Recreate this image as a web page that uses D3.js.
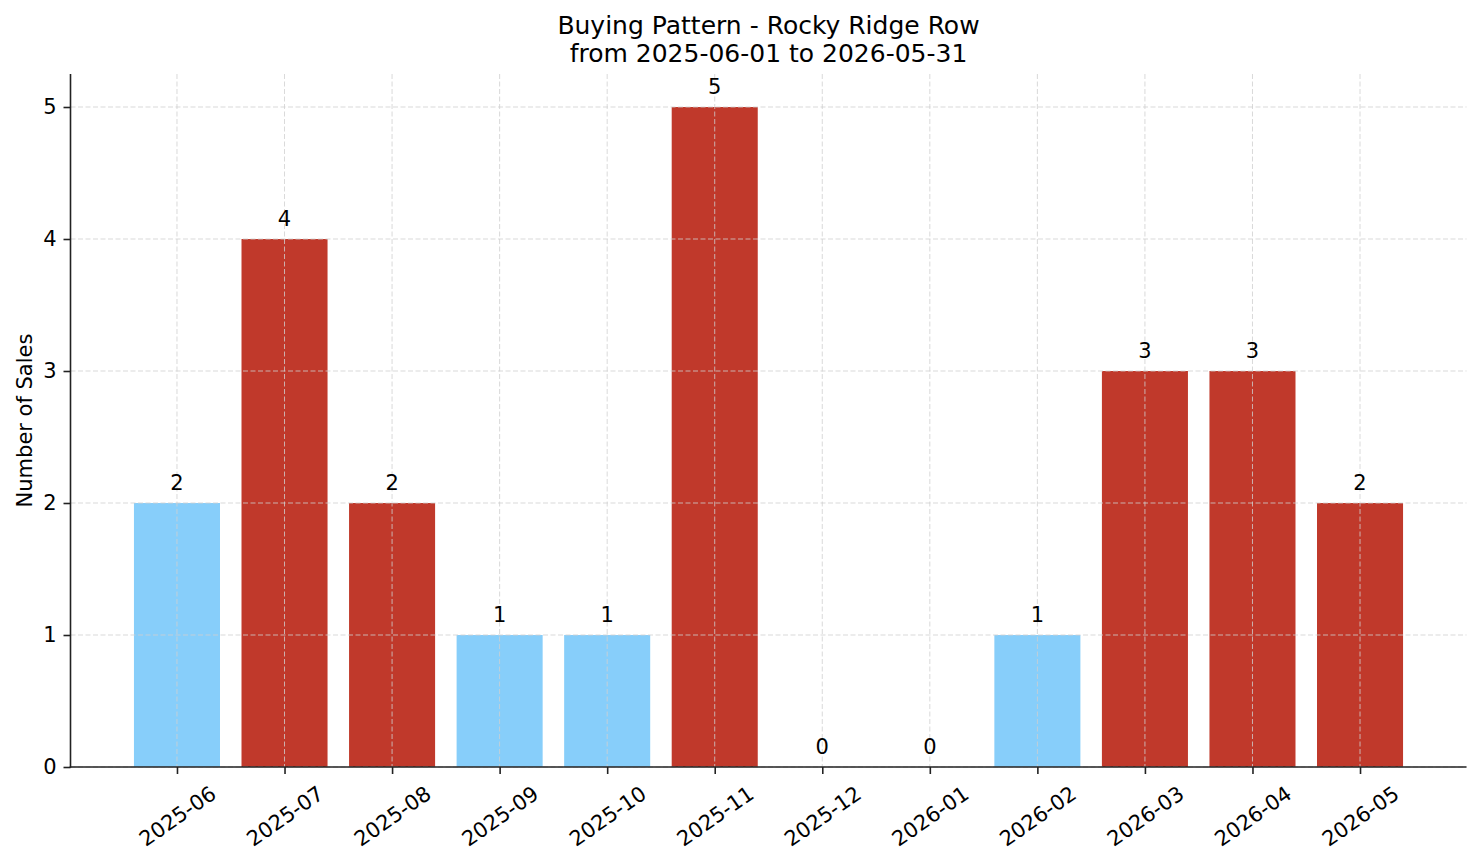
<!DOCTYPE html>
<html>
<head>
<meta charset="utf-8">
<script src="https://cdn.jsdelivr.net/npm/d3@7"></script>
<style>
  body { margin: 0; background: #fff; }
  svg { display: block; font-family: 'DejaVu Sans', sans-serif; }
</style>
</head>
<body>
<div id="chart"></div>
<script>
// monthly sales counts
const months = ['2025-06', '2025-07', '2025-08', '2025-09', '2025-10', '2025-11',
    '2025-12', '2026-01', '2026-02', '2026-03', '2026-04', '2026-05']
const sales = [2, 4, 2, 1, 1, 5, 0, 0, 1, 3, 3, 2]
// months shown in red
const highlighted = [false, true, true, false, false, true, false, false, false, true, true, true]
const yTicks = [0, 1, 2, 3, 4, 5]

const titleLines = ['Buying Pattern - Rocky Ridge Row', 'from 2025-06-01 to 2026-05-31']
const yLabel = 'Number of Sales'

const width = 1481, height = 863
const plotLeft = 70.5, plotRight = 1466.5, plotTop = 74, plotBottom = 767
const fs = 21

const svg = d3.select('#chart').append('svg')
    .attr('width', width)
    .attr('height', height)

const xScale = d3.scaleLinear().domain([-0.99, 11.99]).range([plotLeft, plotRight])
const yScale = d3.scaleLinear().domain([0, 5.25]).range([plotBottom, plotTop])
const barW = xScale(0.8) - xScale(0)

// bars
svg.append('g')
    .selectAll('rect')
    .data(sales)
    .join('rect')
    .attr('x', (d, i) => xScale(i) - barW / 2)
    .attr('y', d => yScale(d))
    .attr('width', barW)
    .attr('height', d => yScale(0) - yScale(d))
    .attr('fill', (d, i) => highlighted[i] ? '#c0392b' : '#87cefa')

// grid, drawn over the bars
const grid = svg.append('g')
    .attr('stroke', '#cfcfcf')
    .attr('stroke-opacity', 0.8)
    .attr('stroke-width', 1)
    .attr('stroke-dasharray', '5,2.5')
grid.selectAll('.v').data(d3.range(months.length)).join('line')
    .attr('class', 'v')
    .attr('x1', d => xScale(d)).attr('x2', d => xScale(d))
    .attr('y1', plotTop).attr('y2', plotBottom)
grid.selectAll('.h').data(yTicks).join('line')
    .attr('class', 'h')
    .attr('x1', plotLeft).attr('x2', plotRight)
    .attr('y1', d => yScale(d)).attr('y2', d => yScale(d))

// value labels
svg.append('g')
    .selectAll('text')
    .data(sales)
    .join('text')
    .attr('x', (d, i) => xScale(i))
    .attr('y', d => yScale(d) - 13)
    .attr('text-anchor', 'middle')
    .attr('font-size', fs)
    .attr('fill', '#000')
    .text(d => d)

// axes
const xAxis = svg.append('g')
    .attr('transform', `translate(0,${plotBottom})`)
    .call(d3.axisBottom(xScale)
        .tickValues(d3.range(months.length))
        .tickFormat(i => months[i])
        .tickSize(7)
        .tickPadding(7))
const yAxis = svg.append('g')
    .attr('transform', `translate(${plotLeft},0)`)
    .call(d3.axisLeft(yScale)
        .tickValues(yTicks)
        .tickFormat(d3.format('d'))
        .tickSize(7)
        .tickPadding(7))

;[xAxis, yAxis].forEach(ax => {
    ax.select('.domain').remove()
    ax.selectAll('.tick line').attr('stroke', '#222').attr('stroke-width', 1.6)
    ax.selectAll('.tick text')
        .attr('font-family', "'DejaVu Sans', sans-serif")
        .attr('font-size', fs)
        .attr('fill', '#000')
})

// rotate month labels, centred under tick like matplotlib
const angle = 35 * Math.PI / 180
xAxis.selectAll('.tick text').each(function () {
    const t = d3.select(this)
    const w = this.getComputedTextLength()
    const h = fs * 1.16
    const boxH = w * Math.sin(angle) + h * Math.cos(angle)
    t.attr('y', null).attr('dy', '0.35em')
        .attr('text-anchor', 'middle')
        .attr('transform', `translate(0,${14 + boxH / 2}) rotate(-35)`)
})

// spines
svg.append('line')
    .attr('x1', plotLeft).attr('x2', plotLeft)
    .attr('y1', plotTop).attr('y2', plotBottom + 0.8)
    .attr('stroke', '#222').attr('stroke-width', 1.6)
svg.append('line')
    .attr('x1', plotLeft - 0.8).attr('x2', plotRight)
    .attr('y1', plotBottom).attr('y2', plotBottom)
    .attr('stroke', '#222').attr('stroke-width', 1.6)

// y label
svg.append('text')
    .attr('transform', `translate(32,${(plotTop + plotBottom) / 2}) rotate(-90)`)
    .attr('text-anchor', 'middle')
    .attr('font-size', fs)
    .text(yLabel)

// title
svg.append('g')
    .selectAll('text')
    .data(titleLines)
    .join('text')
    .attr('x', (plotLeft + plotRight) / 2)
    .attr('y', (d, i) => 33.5 + i * 28.5)
    .attr('text-anchor', 'middle')
    .attr('font-size', 25)
    .text(d => d)
</script>
</body>
</html>
